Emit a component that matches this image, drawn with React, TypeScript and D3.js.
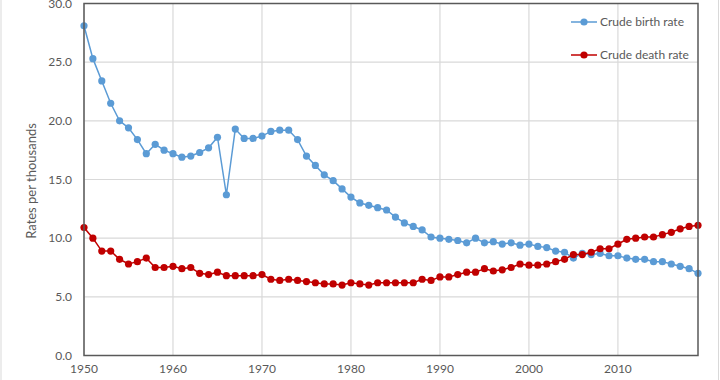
import React from "react";
import * as d3 from "d3";

const years: number[] = d3.range(1950, 2020);
const birthRate: number[] = [
  28.1, 25.3, 23.4, 21.5, 20.0, 19.4, 18.4, 17.2, 18.0, 17.5,
  17.2, 16.9, 17.0, 17.3, 17.7, 18.6, 13.7, 19.3, 18.5, 18.5,
  18.7, 19.1, 19.2, 19.2, 18.4, 17.0, 16.2, 15.4, 14.9, 14.2,
  13.5, 13.0, 12.8, 12.6, 12.4, 11.8, 11.3, 11.0, 10.7, 10.1,
  10.0, 9.9, 9.8, 9.6, 10.0, 9.6, 9.7, 9.5, 9.6, 9.4,
  9.5, 9.3, 9.2, 8.9, 8.8, 8.3, 8.7, 8.6, 8.7, 8.5,
  8.5, 8.3, 8.2, 8.2, 8.0, 8.0, 7.8, 7.6, 7.4, 7.0,
];
const deathRate: number[] = [
  10.9, 10.0, 8.9, 8.9, 8.2, 7.8, 8.0, 8.3, 7.5, 7.5,
  7.6, 7.4, 7.5, 7.0, 6.9, 7.1, 6.8, 6.8, 6.8, 6.8,
  6.9, 6.5, 6.4, 6.5, 6.4, 6.3, 6.2, 6.1, 6.1, 6.0,
  6.2, 6.1, 6.0, 6.2, 6.2, 6.2, 6.2, 6.2, 6.5, 6.4,
  6.7, 6.7, 6.9, 7.1, 7.1, 7.4, 7.2, 7.3, 7.5, 7.8,
  7.7, 7.7, 7.8, 8.0, 8.2, 8.6, 8.6, 8.8, 9.1, 9.1,
  9.5, 9.9, 10.0, 10.1, 10.1, 10.3, 10.5, 10.8, 11.0, 11.1,
];
const yTicks: number[] = [0, 5, 10, 15, 20, 25, 30];
const xTicks: number[] = [1950, 1960, 1970, 1980, 1990, 2000, 2010];
const seriesNames: string[] = ["Crude birth rate", "Crude death rate"];
const seriesColors: string[] = ["#5B9BD5", "#C00000"];

const W = 720;
const H = 380;
const M = { left: 84, right: 698, top: 3.5, bottom: 355.5 };
const FONT = "Lato, 'Open Sans', sans-serif";
const TEXT = "#595959";

export default function App() {
  const x = d3.scaleLinear().domain([1950, 2019]).range([M.left, M.right]);
  const y = d3.scaleLinear().domain([0, 30]).range([M.bottom, M.top]);
  const line = d3
    .line<number>()
    .x((_, i) => x(years[i]))
    .y((d) => y(d));
  const series = [birthRate, deathRate];

  return (
    <svg
      width={W}
      height={H}
      style={{ position: "absolute", left: 0, top: 0, background: "#fff" }}
      fontFamily={FONT}
    >
      <rect x={0} y={0} width={W} height={H} fill="#fff" />
      <line x1={1} x2={1} y1={0} y2={H} stroke="#d9d9d9" strokeWidth={1} />
      <line x1={718.5} x2={718.5} y1={0} y2={H} stroke="#d9d9d9" strokeWidth={1} />
      {/* gridlines */}
      {yTicks.map((t) => (
        <line key={"gy" + t} x1={M.left} x2={M.right} y1={y(t)} y2={y(t)} stroke="#d9d9d9" strokeWidth={1.2} />
      ))}
      {xTicks.map((t) => (
        <line key={"gx" + t} x1={x(t)} x2={x(t)} y1={M.top} y2={M.bottom} stroke="#d9d9d9" strokeWidth={1.2} />
      ))}
      {/* series */}
      {series.map((s, si) => (
        <g key={"s" + si}>
          <path d={line(s) || ""} fill="none" stroke={seriesColors[si]} strokeWidth={1.5} />
          {s.map((v, i) => (
            <circle key={i} cx={x(years[i])} cy={y(v)} r={3.6} fill={seriesColors[si]} />
          ))}
        </g>
      ))}
      {/* frame */}
      <rect
        x={M.left}
        y={M.top}
        width={M.right - M.left}
        height={M.bottom - M.top}
        fill="none"
        stroke="#595959"
        strokeWidth={1.5}
      />
      {/* y tick labels */}
      {yTicks.map((t) => (
        <text key={"ty" + t} x={72} y={y(t)} dy="0.35em" textAnchor="end" fontSize={12} fill={TEXT}>
          {t.toFixed(1)}
        </text>
      ))}
      {xTicks.map((t) => (
        <text key={"tx" + t} x={x(t)} y={373} textAnchor="middle" fontSize={12} fill={TEXT}>
          {t}
        </text>
      ))}
      <text
        transform={`translate(36,181) rotate(-90)`}
        textAnchor="middle"
        fontSize={13}
        fill={TEXT}
      >
        Rates per thousands
      </text>
      {/* legend */}
      {seriesNames.map((n, i) => (
        <g key={"l" + i} transform={`translate(0,${22 + i * 33})`}>
          <line x1={571} x2={597} y1={0} y2={0} stroke={seriesColors[i]} strokeWidth={1.5} />
          <circle cx={584} cy={0} r={3.6} fill={seriesColors[i]} />
          <text x={600} y={0} dy="0.35em" fontSize={12} fill={TEXT}>
            {n}
          </text>
        </g>
      ))}
    </svg>
  );
}
